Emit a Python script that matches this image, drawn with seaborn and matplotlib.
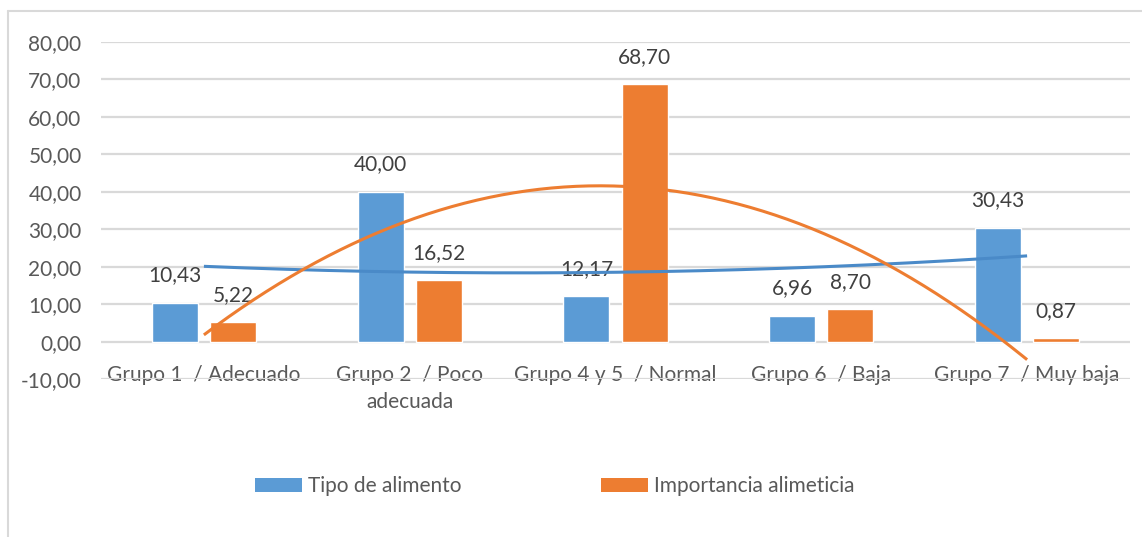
import numpy as np
import pandas as pd
import matplotlib
matplotlib.use("Agg")
import matplotlib.pyplot as plt
from matplotlib.lines import Line2D
from matplotlib.patches import Patch
import seaborn as sns

# Data
categorias = [
    "Grupo 1  / Adecuado",
    "Grupo 2  / Poco\nadecuada",
    "Grupo 4 y 5  / Normal",
    "Grupo 6  / Baja",
    "Grupo 7  / Muy baja",
]
tipo_alimento = [10.43, 40.00, 12.17, 6.96, 30.43]
importancia_alimenticia = [5.22, 16.52, 68.70, 8.70, 0.87]
series = ["Tipo de alimento", "Importancia alimeticia"]
y_ticks = [-10, 0, 10, 20, 30, 40, 50, 60, 70, 80]

AZUL = "#5B9BD5"
NARANJA = "#ED7D31"
TXT_EJE = "#595959"
TXT_VAL = "#404040"
GRID = "#D9D9D9"
FS = 15

sns.set_theme(style="white")
plt.rcParams["font.family"] = ["Lato", "DejaVu Sans"]

df = pd.DataFrame({
    "categoria": categorias * 2,
    "serie": [series[0]] * len(categorias) + [series[1]] * len(categorias),
    "valor": tipo_alimento + importancia_alimenticia,
})

W, H = 1142, 537
fig = plt.figure(figsize=(W / 100, H / 100), dpi=100)
ax = fig.add_axes([101 / W, 1 - 379.2 / H, (1130 - 101) / W, (379.2 - 41.6) / H])

sns.barplot(
    data=df, x="categoria", y="valor", hue="serie",
    order=categorias, hue_order=series,
    palette=[AZUL, NARANJA], width=0.564, gap=0.207,
    saturation=1, legend=False, ax=ax, zorder=2, errorbar=None,
)

# value labels above each bar
for cont, vals in zip(ax.containers, [tipo_alimento, importancia_alimenticia]):
    for rect, v in zip(cont, vals):
        ax.annotate(f"{v:.2f}".replace(".", ","),
                    (rect.get_x() + rect.get_width() / 2, v),
                    xytext=(0, 19.5), textcoords="offset points",
                    ha="center", va="center", fontsize=FS, color=TXT_VAL,
                    zorder=3)

# second-order polynomial trend lines
x = np.arange(len(categorias))
xs = np.linspace(0, len(categorias) - 1, 200)
for vals, col in [(tipo_alimento, "#4A8AC8"), (importancia_alimenticia, NARANJA)]:
    coef = np.polyfit(x, vals, 2)
    ax.plot(xs, np.polyval(coef, xs), color=col, lw=2.2, zorder=4,
            solid_capstyle="butt")

ax.set_ylim(-10, 80)
ax.set_xlim(-0.5, len(categorias) - 0.5)
ax.set_yticks(y_ticks)
ax.set_yticklabels([f"{t:.2f}".replace(".", ",") for t in y_ticks],
                   fontsize=FS, color=TXT_EJE)
ax.yaxis.grid(True, color=GRID, lw=1.6, zorder=0)
ax.set_axisbelow(True)
ax.tick_params(axis="y", length=0, pad=14)

# category axis crosses at zero
ax.spines["bottom"].set_position(("data", 0))
for s in ["top", "right", "left", "bottom"]:
    ax.spines[s].set_visible(False)
ax.tick_params(axis="x", length=0, pad=17)
ax.set_xticks(x)
ax.set_xticklabels(categorias, fontsize=FS, color=TXT_EJE, linespacing=1.42)
ax.set_xlabel("")
ax.set_ylabel("")

# legend
handles = [Patch(facecolor=AZUL, edgecolor="none"),
           Patch(facecolor=NARANJA, edgecolor="none")]
fig.legend(handles, series, loc="center", bbox_to_anchor=(555 / W, 1 - 486 / H),
           ncol=2, frameon=False, fontsize=FS, handlelength=2.26,
           handleheight=0.67, handletextpad=0.29, columnspacing=6.7,
           labelcolor=TXT_EJE)

# chart area border (left and top edges)
fig.add_artist(Line2D([8 / W, 8 / W], [0, 1 - 11 / H], transform=fig.transFigure,
                      color=GRID, lw=1.5))
fig.add_artist(Line2D([8 / W, 1], [1 - 11 / H, 1 - 11 / H], transform=fig.transFigure,
                      color=GRID, lw=1.5))

fig.savefig("out.png", dpi=100, facecolor="white")
